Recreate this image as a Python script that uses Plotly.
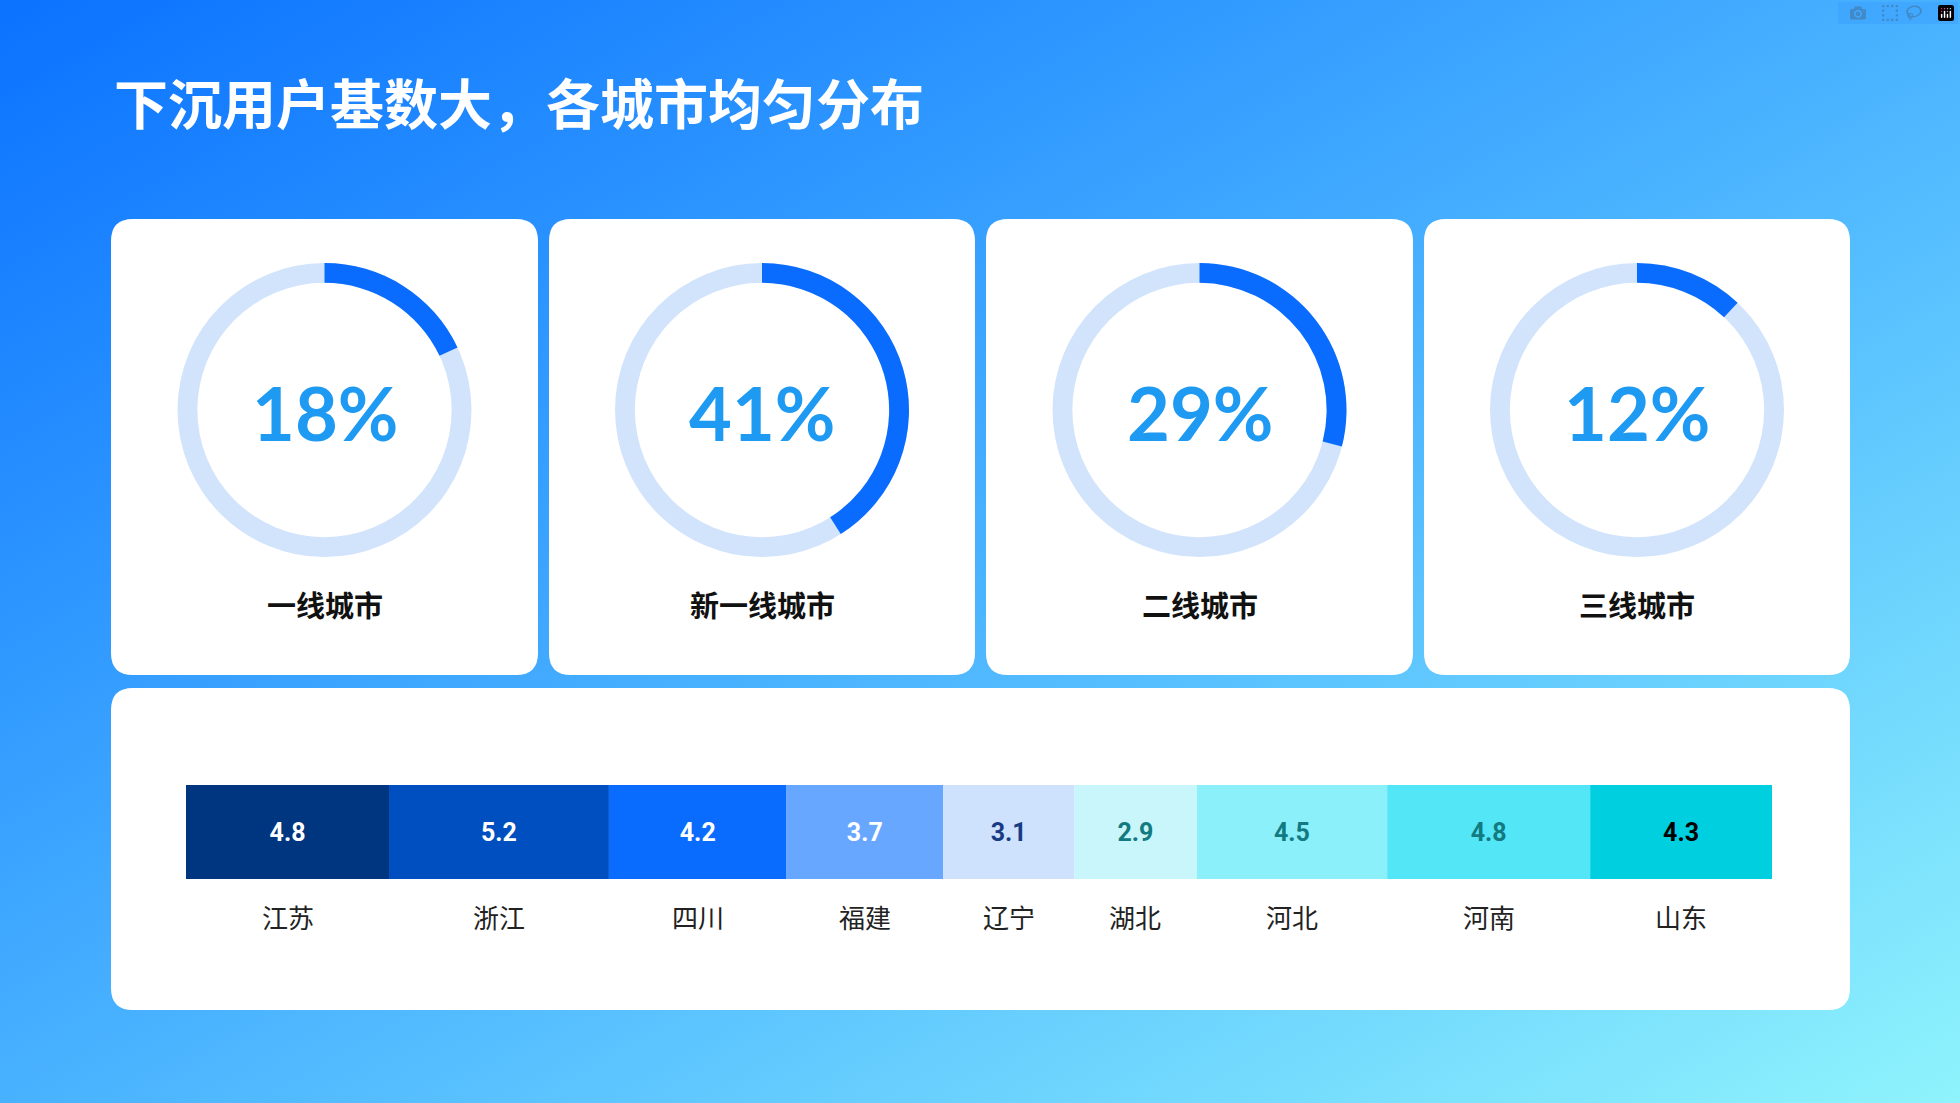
import base64
import plotly.graph_objects as go

W, H = 1960, 1103

title = "下沉用户基数大，各城市均匀分布"
tiers = ["一线城市", "新一线城市", "二线城市", "三线城市"]
tier_pct = [18, 41, 29, 12]

provinces = ["江苏", "浙江", "四川", "福建", "辽宁", "湖北", "河北", "河南", "山东"]
prov_vals = [4.8, 5.2, 4.2, 3.7, 3.1, 2.9, 4.5, 4.8, 4.3]
seg_colors = ["#00357f", "#004fc0", "#0a6cff", "#68a7ff", "#cfe2fd",
              "#c8f6fb", "#8cf0fb", "#52e6f7", "#00cfe0"]
txt_colors = ["white", "white", "white", "white", "#173b84",
              "#127a80", "#127a80", "#127a80", "#000000"]

FONT = "Noto Sans CJK SC"


def px(x):
    return x / W


def py(y):
    return 1 - y / H


def rrect(x0, y0, x1, y1, r=22):
    pts = (f"M {px(x0+r)},{py(y0)} L {px(x1-r)},{py(y0)} "
           f"Q {px(x1)},{py(y0)} {px(x1)},{py(y0+r)} L {px(x1)},{py(y1-r)} "
           f"Q {px(x1)},{py(y1)} {px(x1-r)},{py(y1)} L {px(x0+r)},{py(y1)} "
           f"Q {px(x0)},{py(y1)} {px(x0)},{py(y1-r)} L {px(x0)},{py(y0+r)} "
           f"Q {px(x0)},{py(y0)} {px(x0+r)},{py(y0)} Z")
    return dict(type="path", xref="paper", yref="paper", path=pts,
                fillcolor="white", line_width=0, layer="below")


def note(x, y, text, size, color, family=FONT, xref="paper", xanchor="center"):
    return dict(x=x, y=y, xref=xref, yref="paper", text=text, showarrow=False,
                xanchor=xanchor, yanchor="middle",
                font=dict(size=size, color=color, family=family))


svg = f'''<svg xmlns="http://www.w3.org/2000/svg" width="{W}" height="{H}">
<defs><linearGradient id="g" x1="0" y1="0" x2="1" y2="1">
<stop offset="0" stop-color="#0a72ff"/><stop offset="0.55" stop-color="#4fb8ff"/>
<stop offset="1" stop-color="#8ff3fc"/></linearGradient></defs>
<rect width="{W}" height="{H}" fill="url(#g)"/></svg>'''
bg = "data:image/svg+xml;base64," + base64.b64encode(svg.encode()).decode()

fig = go.Figure()

card_x = [(111, 538), (549, 975), (986, 1413), (1424, 1850)]
cy, R = 410, 147
annotations = []
for (x0, x1), name, p in zip(card_x, tiers, tier_pct):
    cx = (x0 + x1) / 2
    dom = dict(x=[px(cx - R), px(cx + R)], y=[py(cy + R), py(cy - R)])
    fig.add_trace(go.Pie(values=[100], hole=0.865, domain=dom, sort=False,
                         marker=dict(colors=["#d2e4fc"]), textinfo="none",
                         hoverinfo="skip", showlegend=False))
    fig.add_trace(go.Pie(values=[p, 100 - p], hole=0.865, domain=dom, sort=False,
                         direction="clockwise", rotation=0,
                         marker=dict(colors=["#0a6cff", "rgba(0,0,0,0)"]),
                         textinfo="none", hoverinfo="skip", showlegend=False))
    annotations.append(note(px(cx), py(cy + 2), f"<b>{p}%</b>", 74, "#1f9af2", "Lato"))
    annotations.append(note(px(cx), py(604), f"<b>{name}</b>", 29, "#111"))

base = 0
for name, v, c, tc in zip(provinces, prov_vals, seg_colors, txt_colors):
    fig.add_trace(go.Bar(x=[v], y=[0], base=base, orientation="h", width=1,
                         marker=dict(color=c, line_width=0),
                         text=[f"<b>{v}</b>"], textposition="inside",
                         insidetextanchor="middle",
                         textfont=dict(size=25, color=tc, family="Roboto"),
                         showlegend=False, hoverinfo="skip"))
    annotations.append(note(base + v / 2, py(916), name, 26, "#222", xref="x"))
    base += v

annotations.append(note(px(112), py(102), f"<b>{title}</b>", 54, "white",
                        xanchor="left"))

shapes = [rrect(x0, 219, x1, 675) for x0, x1 in card_x]
shapes.append(rrect(111, 688, 1850, 1010))

fig.update_layout(
    width=W, height=H, margin=dict(l=0, r=0, t=0, b=0),
    paper_bgcolor="#3aa0ff", plot_bgcolor="rgba(0,0,0,0)",
    barmode="overlay", uniformtext=dict(mode="show", minsize=10),
    xaxis=dict(domain=[px(186), px(1772)], range=[0, sum(prov_vals)],
               visible=False, fixedrange=True),
    yaxis=dict(domain=[py(879), py(785)], range=[-0.5, 0.5],
               visible=False, fixedrange=True),
    images=[dict(source=bg, xref="paper", yref="paper", x=0, y=1, sizex=1,
                 sizey=1, sizing="stretch", layer="below")],
    shapes=shapes, annotations=annotations,
)

fig.write_html("out.html",
               post_script="document.body.style.margin='0';"
                           "document.body.style.overflow='hidden';")
